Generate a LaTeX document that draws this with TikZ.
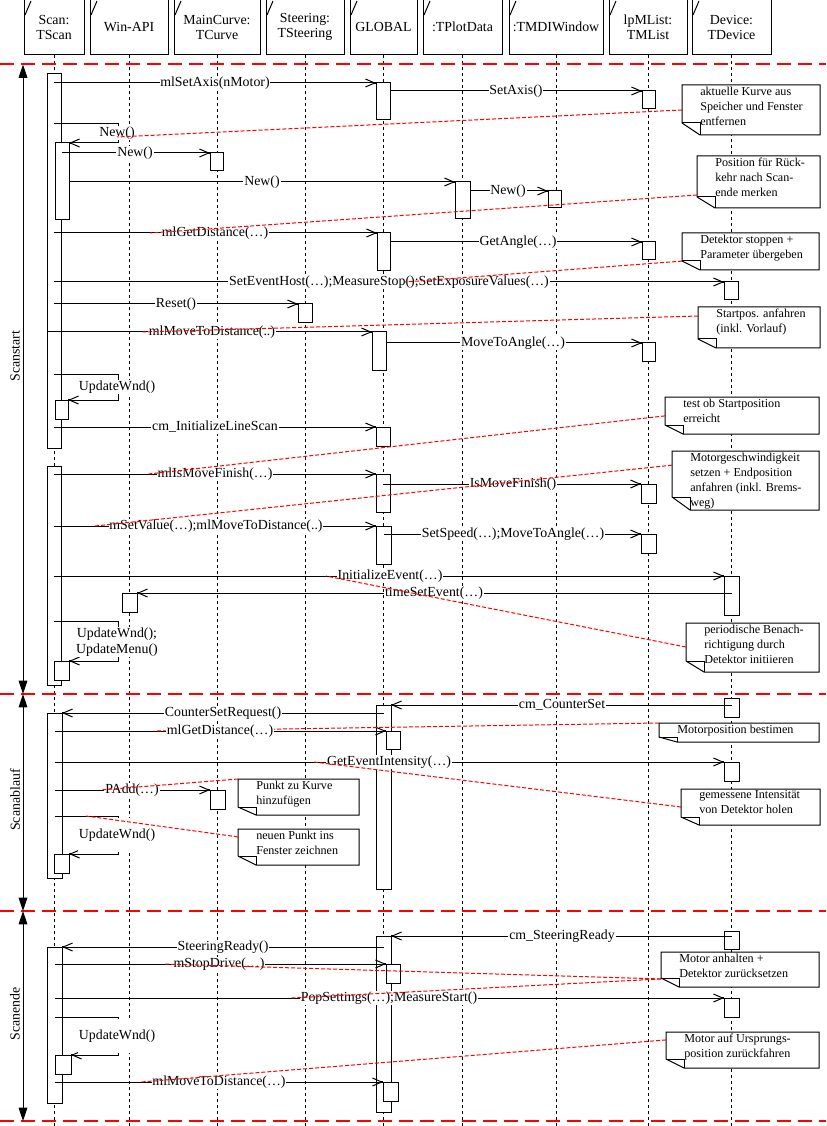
\documentclass[tikz,border=0pt]{standalone}
\usepackage{fontspec}
\setmainfont{Liberation Serif}
\usetikzlibrary{arrows.meta,fit,calc}
\newcommand\lblf{\fontsize{10.4pt}{12.5pt}\selectfont}
\newcommand\notef{\fontsize{9.1pt}{11.25pt}\selectfont}
\newcommand\hdf{\fontsize{10.4pt}{11.25pt}\selectfont}
\tikzset{
  lbl/.style={fill=white, inner sep=0.6pt, font=\lblf, align=center},
  headbox/.style={draw, fill=white, line width=0.75pt, inner sep=0pt, outer sep=0pt},
  htxt/.style={font=\hdf, align=center, inner sep=0pt},
  life/.style={line width=0.75pt, dash pattern=on 2.25pt off 2.25pt},
  act/.style={draw, fill=white, line width=0.75pt, inner sep=0pt, outer sep=0pt},
  msg/.style={line width=0.75pt, -{Straight Barb[length=7pt,width=6pt,sep=-2pt]Square[length=2pt,width=2pt]}},
  phaseln/.style={red, line width=0.9pt, dash pattern=on 10.5pt off 5.25pt},
  phasearr/.style={line width=0.75pt, {Triangle[length=10pt,width=6.5pt]}-{Triangle[length=10pt,width=6.5pt]}},
  phtxt/.style={font=\lblf, rotate=90, inner sep=0pt},
  notefit/.style={inner sep=0pt, outer sep=0pt},
  notebd/.style={line width=0.75pt, fill=white},
  notetxt/.style={font=\notef, align=left, inner sep=0pt},
  ncon/.style={red, line width=0.75pt, dash pattern=on 3pt off 1.5pt}
}
% note: name, x0, y0, x1, y1, fold height (px), text
\newcommand\notebx[7]{%
  \node[notefit, fit={(#2,#3) (#4,#5)}] (#1) {};
  \draw[notebd] (#1.north west) -- (#1.north east) -- (#1.south east)
     -- ([shift={(18,0)}]#1.south west) -- ([shift={(0,-#6)}]#1.south west) -- cycle;
  \draw[line width=0.75pt] ([shift={(0,-#6)}]#1.south west) -- ([shift={(18,-#6)}]#1.south west)
     -- ([shift={(18,0)}]#1.south west);
  \node[notetxt, anchor=north west] (#1t) at ([shift={(18,1.5)}]#1.north west) {#7};
}
% header: name, x0, x1, text
\newcommand\headbx[4]{%
  \node[headbox, fit={(#2,-1) (#3,55)}] (#1) {};
  \node[htxt] (#1t) at (#1.center) {#4};
  \draw[line width=0.75pt] ([shift={(1,16)}]#1.north west) -- ([shift={(7,2)}]#1.north west);
}
\begin{document}
\begin{tikzpicture}[x=0.75pt,y=-0.75pt]
\useasboundingbox (0,0) rectangle (826,1126);
\coordinate (bot) at (0,1126);

% headers
\headbx{hScan}{24}{84}{Scan:\\TScan}
\headbx{hWin}{90}{168}{Win-API}
\headbx{hCurve}{174}{260}{MainCurve:\\TCurve}
\headbx{hSteer}{266}{344}{Steering:\\TSteering}
\headbx{hGlob}{350}{417}{GLOBAL}
\headbx{hPlot}{423}{502}{:TPlotData}
\headbx{hMdi}{509}{603}{:TMDIWindow}
\headbx{hList}{609}{687}{lpMList:\\TMList}
\headbx{hDev}{692}{771}{Device:\\TDevice}

% lifelines
\foreach \h in {hScan,hWin,hCurve,hSteer,hGlob,hPlot,hMdi,hList,hDev}
  \draw[life] (\h.south) -- (\h.south |- bot);

% phases
\coordinate (ph0) at (23,64.5);
\coordinate (ph1) at (23,694);
\coordinate (ph2) at (23,911);
\coordinate (ph3) at (23,1121);
\draw[phaseln] (0,64) -- ++(826,0);
\draw[phaseln] (0,694) -- ++(826,0);
\draw[phaseln] (0,911) -- ++(826,0);
\draw[phaseln] (0,1121) -- ++(826,0);
\draw[phasearr] (ph0) -- (ph1);
\draw[phasearr] (ph1) -- (ph2);
\draw[phasearr] (ph2) -- (ph3);
\node[phtxt] (pl1) at (15,356) {Scanstart};
\node[phtxt] (pl2) at (15,800) {Scanablauf};
\node[phtxt] (pl3) at (15,1014) {Scanende};

% notes
\notebx{n1}{682}{85}{820}{135}{12}{aktuelle Kurve aus\\Speicher und Fenster\\entfernen}
\notebx{n2}{697}{156}{820}{208}{11}{Position für Rück-\\kehr nach Scan-\\ende merken}
\notebx{n3}{682}{233}{819}{270}{9}{Detektor stoppen +\\Parameter übergeben}
\notebx{n4}{698}{307}{820}{348}{9}{Startpos. anfahren\\(inkl. Vorlauf)}
\notebx{n5}{665}{397}{819}{434}{9}{test ob Startposition\\erreicht}
\notebx{n6}{672}{451}{819}{510}{13}{Motorgeschwindigkeit\\setzen + Endposition\\anfahren (inkl. Brems-\\weg)}
\notebx{n7}{686}{623}{819}{672}{11}{periodische Benach-\\richtigung durch\\Detektor initiieren}
\notebx{n8}{659}{723}{819}{742}{5}{Motorposition bestimen}
\notebx{n9}{681}{789}{820}{825}{8}{gemessene Intensität\\von Detektor holen}
\notebx{n10}{238}{779}{359}{815}{8}{Punkt zu Kurve\\hinzufügen}
\notebx{n11}{238}{829}{359}{865}{9}{neuen Punkt ins\\Fenster zeichnen}
\notebx{n12}{661}{952}{819}{987}{9}{Motor anhalten +\\Detektor zurücksetzen}
\notebx{n13}{666}{1032}{819}{1068}{9}{Motor auf Ursprungs-\\position zurückfahren}

% activation bars
\node[act, fit={(47,74) (61,448)}] (sA) {};
\node[act, fit={(55,143) (69,220)}] (sB) {};
\node[act, fit={(55,400) (68,419)}] (sC) {};
\node[act, fit={(47,466) (61,685)}] (sD) {};
\node[act, fit={(54,661) (69,680)}] (sE) {};
\node[act, fit={(47,713) (62,878)}] (sF) {};
\node[act, fit={(54,854) (69,873)}] (sG) {};
\node[act, fit={(47,947) (62,1103)}] (sH) {};
\node[act, fit={(55,1055) (71,1074)}] (sI) {};
\node[act, fit={(122,593) (137,612)}] (wA) {};
\node[act, fit={(210,153) (223,171)}] (cA) {};
\node[act, fit={(210,790) (225,809)}] (cB) {};
\node[act, fit={(298,304) (312,323)}] (stA) {};
\node[act, fit={(376,83) (390,120)}] (gA) {};
\node[act, fit={(377,233) (390,271)}] (gB) {};
\node[act, fit={(372,332) (386,370)}] (gC) {};
\node[act, fit={(376,427) (390,446)}] (gD) {};
\node[act, fit={(376,474) (390,512)}] (gE) {};
\node[act, fit={(376,526) (391,564)}] (gF) {};
\node[act, fit={(376,705) (391,889)}] (gG) {};
\node[act, fit={(386,731) (400,749)}] (gH) {};
\node[act, fit={(376,936) (391,1112)}] (gI) {};
\node[act, fit={(386,964) (400,983)}] (gJ) {};
\node[act, fit={(383,1082) (398,1101)}] (gK) {};
\node[act, fit={(455,182) (470,219)}] (pA) {};
\node[act, fit={(548,191) (561,208)}] (mA) {};
\node[act, fit={(642,91) (655,109)}] (lA) {};
\node[act, fit={(642,242) (655,260)}] (lB) {};
\node[act, fit={(642,343) (655,361)}] (lC) {};
\node[act, fit={(641,484) (656,503)}] (lD) {};
\node[act, fit={(641,534) (656,553)}] (lE) {};
\node[act, fit={(724,282) (738,300)}] (dA) {};
\node[act, fit={(724,576) (739,615)}] (dB) {};
\node[act, fit={(724,698) (739,717)}] (dC) {};
\node[act, fit={(724,762) (739,781)}] (dD) {};
\node[act, fit={(724,931) (739,949)}] (dE) {};
\node[act, fit={(724,998) (739,1017)}] (dF) {};

% messages
\draw[msg] (sA.center |- gA.north west) -- (gA.north west);
\draw[msg] (gA.east |- lA.north west) -- (lA.north west);
\draw[msg] (sA.center |- 0,124) -- (118,124) -- (118,143) -- (sB.north east);
\draw[msg] (sB.center |- cA.north west) -- (cA.north west);
\draw[msg] (sB.east |- pA.north west) -- (pA.north west);
\draw[msg] (pA.east |- mA.north west) -- (mA.north west);
\draw[msg] (sA.center |- gB.north west) -- (gB.north west);
\draw[msg] (gB.east |- lB.north west) -- (lB.north west);
\draw[msg] (sA.center |- dA.north west) -- (dA.north west);
\draw[msg] (sA.center |- stA.north west) -- (stA.north west);
\draw[msg] (sA.west |- gC.north west) -- (gC.north west);
\draw[msg] (gC.east |- lC.north west) -- (lC.north west);
\draw[msg] (sA.center |- 0,374) -- (118,374) -- (118,400) -- (sC.north east);
\draw[msg] (sA.center |- gD.north west) -- (gD.north west);
\draw[msg] (sD.center |- gE.north west) -- (gE.north west);
\draw[msg] (gE.center |- lD.north west) -- (lD.north west);
\draw[msg] (sD.center |- gF.north west) -- (gF.north west);
\draw[msg] (gF.center |- lE.north west) -- (lE.north west);
\draw[msg] (sD.center |- dB.north west) -- (dB.north west);
\draw[msg] (dB.center |- wA.north east) -- (wA.north east);
\draw[msg] (sD.center |- 0,621) -- (118,621) -- (118,661) -- (sE.north east);
\draw[msg] (dC.center |- gG.north east) -- (gG.north east);
\draw[msg] (gG.center |- sF.north east) -- (sF.north east);
\draw[msg] (sF.center |- gH.north west) -- (gH.north west);
\draw[msg] (sF.center |- dD.north west) -- (dD.north west);
\draw[msg] (sF.center |- cB.north west) -- (cB.north west);
\draw[msg] (sF.center |- 0,816) -- (118,816) -- (118,854) -- (sG.north east);
\coordinate (m27p) at (86,816);
\draw[msg] (dE.center |- gI.north east) -- (gI.north east);
\draw[msg] (gI.center |- sH.north east) -- (sH.north east);
\draw[msg] (sH.center |- gJ.north west) -- (gJ.north west);
\draw[msg] (sH.center |- dF.north west) -- (dF.north west);
\draw[msg] (sH.center |- 0,1017) -- (118,1017) -- (118,1055) -- (sI.north east);
\draw[msg] (sH.center |- gK.north west) -- (gK.north west);

% connector hidden under its label
\coordinate (n8e) at (157,731);
\draw[ncon] (n8.north west) -- (n8e);

% labels
\node[lbl] (m1l) at (215,83) {mlSetAxis(nMotor)};
\node[lbl] (m2l) at (516,91) {SetAxis()};
\node[lbl] (m3l) at (117,133) {New()};
\node[lbl] (m4l) at (135,153) {New()};
\node[lbl] (m5l) at (262,182) {New()};
\node[lbl] (m6l) at (508,191) {New()};
\node[lbl] (m7l) at (215,233) {mlGetDistance(…)};
\node[lbl] (m8l) at (518,242) {GetAngle(…)};
\node[lbl] (m9l) at (389,282) {SetEventHost(…);MeasureStop();SetExposureValues(…)};
\node[lbl] (m10l) at (176,304) {Reset()};
\node[lbl] (m11l) at (212,332) {mlMoveToDistance(..)};
\node[lbl] (m12l) at (513,343) {MoveToAngle(…)};
\node[lbl] (m13l) at (117,387) {UpdateWnd()};
\node[lbl] (m14l) at (215,427) {cm\_InitializeLineScan};
\node[lbl] (m15l) at (215,474) {mlIsMoveFinish(…)};
\node[lbl] (m16l) at (513,484) {IsMoveFinish()};
\node[lbl] (m17l) at (216,526) {mSetValue(…);mlMoveToDistance(..)};
\node[lbl] (m18l) at (513,534) {SetSpeed(…);MoveToAngle(…)};
\node[lbl] (m19l) at (390,576) {InitializeEvent(…)};
\node[lbl] (m20l) at (434,593) {timeSetEvent(…)};
\node[lbl] (m21l) at (117,642) {UpdateWnd();\\UpdateMenu()};
\node[lbl] (m22l) at (562,705) {cm\_CounterSet};
\node[lbl] (m23l) at (223,713) {CounterSetRequest()};
\node[lbl] (m24l) at (220,731) {mlGetDistance(…)};
\node[lbl] (m25l) at (389,762) {GetEventIntensity(…)};
\node[lbl] (m26l) at (132,790) {PAdd(…)};
\node[lbl, minimum height=25pt] (m27l) at (117,835) {UpdateWnd()};
\node[lbl] (m28l) at (562,936) {cm\_SteeringReady};
\node[lbl] (m29l) at (223,947) {SteeringReady()};
\node[lbl] (m30l) at (219,964) {mStopDrive(…)};
\node[lbl] (m31l) at (389,998) {PopSettings(…);MeasureStart()};
\node[lbl, minimum height=25pt] (m32l) at (117,1036) {UpdateWnd()};
\node[lbl] (m33l) at (219,1082) {mlMoveToDistance(…)};

% note connectors
\draw[ncon] ($(n1.north west)!0.5!(n1.south west)$) -- ([yshift=-3pt]m3l.center);
\draw[ncon] ($(n2.north west)!0.75!(n2.south west)$) -- ([xshift=-8pt]m7l.west);
\draw[ncon] ($(n3.north west)!0.76!(n3.south west)$) -- ([xshift=12pt]m9l.center);
\draw[ncon] ($(n4.north west)!0.22!(n4.south west)$) -- ([xshift=-4pt]m11l.west);
\draw[ncon] ($(n5.north west)!0.51!(n5.south west)$) -- ([xshift=-6pt]m15l.west);
\draw[ncon] ($(n6.north west)!0.24!(n6.south west)$) -- ([xshift=-10pt]m17l.west);
\draw[ncon] ($(n7.north west)!0.49!(n7.south west)$) -- ([xshift=-8pt]m19l.west);
\draw[ncon] ($(n9.north west)!0.5!(n9.south west)$) -- ([xshift=-9pt]m25l.west);
\draw[ncon] (n10.north west) -- ([xshift=-3pt]m26l.west);
\draw[ncon] ($(n11.north west)!0.22!(n11.south west)$) -- (m27p);
\draw[ncon] ($(n12.north west)!0.77!(n12.south west)$) -- ([xshift=-7pt]m30l.west);
\draw[ncon] ($(n12.north west)!0.77!(n12.south west)$) -- ([xshift=-6pt]m31l.west);
\draw[ncon] ($(n13.north west)!0.22!(n13.south west)$) -- ([xshift=-8pt]m33l.west);
\end{tikzpicture}
\end{document}
